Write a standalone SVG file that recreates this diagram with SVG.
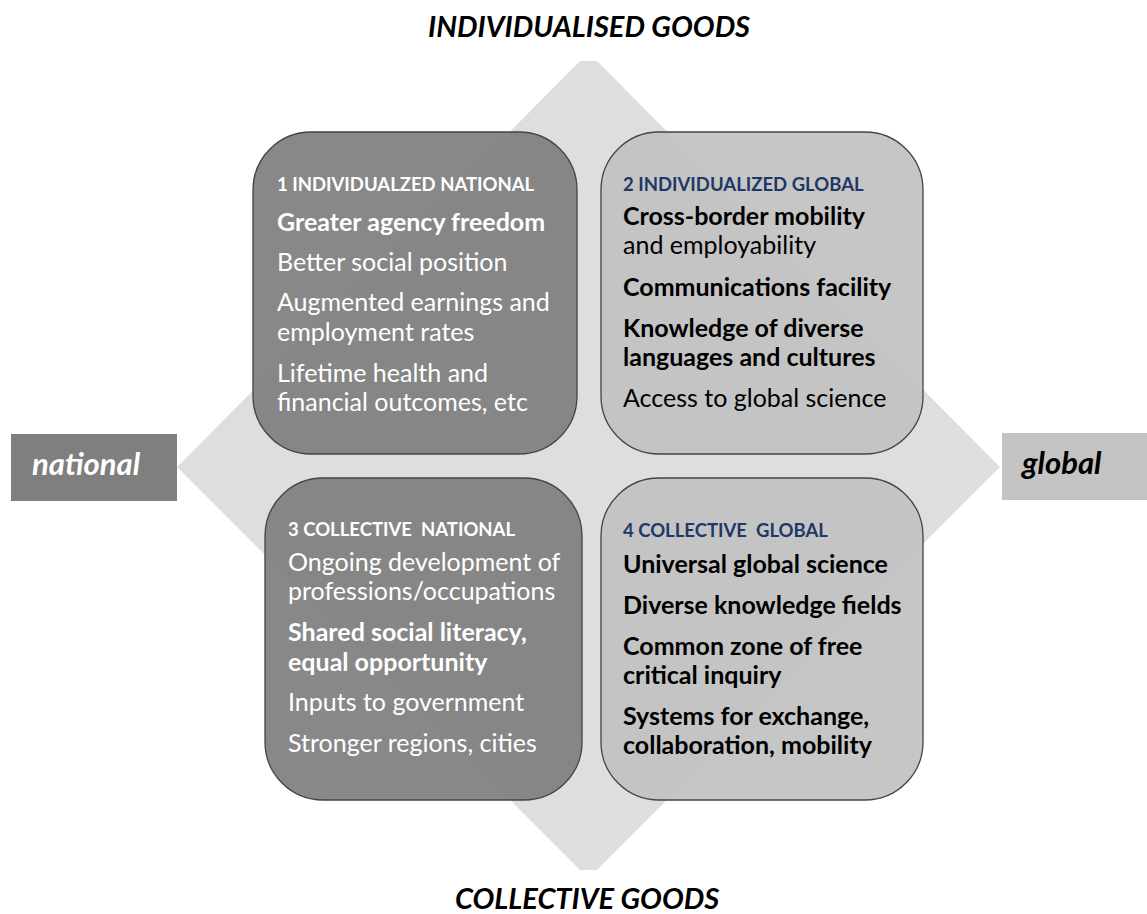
<svg xmlns="http://www.w3.org/2000/svg" width="1147" height="914" viewBox="0 0 1147 914">
  <style>
    text { font-family: Lato, "Open Sans", "Liberation Sans", sans-serif; }
    .axis { font-size: 29px; font-weight: bold; font-style: italic; fill: #000; }
    .side { font-size: 31px; font-weight: bold; font-style: italic; }
    .box { stroke: #444; stroke-width: 1.3; fill-opacity: 0.93; }
    .dark { fill: #7f7f7f; }
    .light { fill: #c2c2c2; }
    .hd { font-size: 18.5px; font-weight: bold; }
    .it { font-size: 25px; }
    .b { font-weight: bold; }
    .w { fill: #fff; }
    .k { fill: #000; }
    .navy { fill: #1f3864; }
  </style>

  <!-- background diamond -->
  <polygon id="diamond" points="580,61 597,61 1000,467 597,870 580,870 177,467" fill="#dedede"/>

  <!-- axis titles -->
  <text class="axis" x="589" y="37" text-anchor="middle">INDIVIDUALISED GOODS</text>
  <text class="axis" x="587" y="909" text-anchor="middle">COLLECTIVE GOODS</text>

  <g id="national">
    <rect x="11" y="434" width="166" height="67" fill="#7f7f7f"/>
    <text class="side w" x="32" y="475">national</text>
  </g>
  <g id="global">
    <rect x="1002" y="433" width="145" height="67" fill="#c3c3c3"/>
    <text class="side k" x="1022" y="474">global</text>
  </g>

  <g id="q1">
    <rect class="box dark" x="253" y="132" width="324" height="322" rx="58"/>
    <text class="hd w" x="277" y="191">1 INDIVIDUALZED NATIONAL</text>
    <text class="it w b" x="277" y="231">Greater agency freedom</text>
    <text class="it w" x="277" y="271">Better social position</text>
    <text class="it w" x="277" y="311">Augmented earnings and</text>
    <text class="it w" x="277" y="341">employment rates</text>
    <text class="it w" x="277" y="382">Lifetime health and</text>
    <text class="it w" x="277" y="411">financial outcomes, etc</text>
  </g>

  <g id="q2">
    <rect class="box light" x="601" y="132" width="322" height="322" rx="58"/>
    <text class="hd navy" x="623" y="191">2 INDIVIDUALIZED GLOBAL</text>
    <text class="it k b" x="623" y="225">Cross-border mobility</text>
    <text class="it k" x="623" y="254">and employability</text>
    <text class="it k b" x="623" y="296">Communications facility</text>
    <text class="it k b" x="623" y="337">Knowledge of diverse</text>
    <text class="it k b" x="623" y="366">languages and cultures</text>
    <text class="it k" x="623" y="407">Access to global science</text>
  </g>

  <g id="q3">
    <rect class="box dark" x="265" y="478" width="317" height="322" rx="58"/>
    <text class="hd w" x="288" y="536">3 COLLECTIVE&#160; NATIONAL</text>
    <text class="it w" x="288" y="571">Ongoing development of</text>
    <text class="it w" x="288" y="600">professions/occupations</text>
    <text class="it w b" x="288" y="641">Shared social literacy,</text>
    <text class="it w b" x="288" y="671">equal opportunity</text>
    <text class="it w" x="288" y="711">Inputs to government</text>
    <text class="it w" x="288" y="752">Stronger regions, cities</text>
  </g>

  <g id="q4">
    <rect class="box light" x="601" y="478" width="322" height="322" rx="58"/>
    <text class="hd navy" x="623" y="537">4 COLLECTIVE&#160; GLOBAL</text>
    <text class="it k b" x="623" y="573">Universal global science</text>
    <text class="it k b" x="623" y="614">Diverse knowledge fields</text>
    <text class="it k b" x="623" y="655">Common zone of free</text>
    <text class="it k b" x="623" y="684">critical inquiry</text>
    <text class="it k b" x="623" y="725">Systems for exchange,</text>
    <text class="it k b" x="623" y="754">collaboration, mobility</text>
  </g>

  <g id="connectors"/>
</svg>
